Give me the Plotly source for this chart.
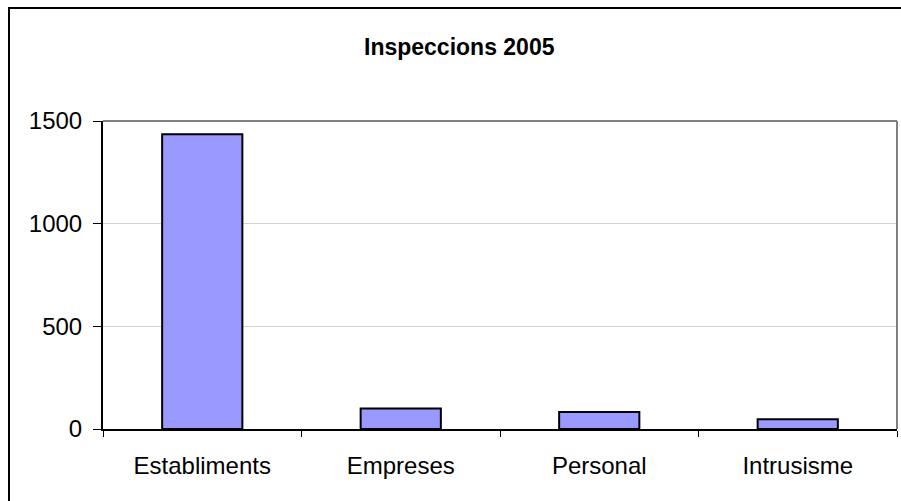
import plotly.graph_objects as go

categories = ["Establiments", "Empreses", "Personal", "Intrusisme"]
values = [1436, 100, 83, 48]
y_ticks = [0, 500, 1000, 1500]
title_text = "Inspeccions 2005"

W, H = 901, 501
L, R, T, B = 103, 4, 121, 72
pw = W - L - R
ph = H - T - B

def px_x(x):
    return (x - L) / pw

def px_y(y):
    return (H - B - y) / ph

fig = go.Figure()
fig.add_trace(go.Bar(
    x=categories, y=values,
    marker=dict(color="#9999FF", line=dict(color="#000000", width=2)),
    hoverinfo="x+y",
))

font = "Arial, 'Liberation Sans', sans-serif"
fig.update_layout(
    width=W, height=H,
    margin=dict(l=L, r=R, t=T, b=B),
    paper_bgcolor="white", plot_bgcolor="white",
    bargap=0.596,
    showlegend=False,
    font=dict(family=font, color="#000000"),
    xaxis=dict(
        showline=True, linecolor="#000000", linewidth=2,
        ticks="outside", ticklen=6, tickcolor="#000000", tickwidth=1,
        tickson="boundaries", showgrid=False,
        tickfont=dict(size=24, family=font, color="#000000"),
        ticklabelstandoff=14,
        mirror=False,
    ),
    yaxis=dict(
        range=[0, 1500], tickvals=y_ticks,
        showline=True, linecolor="#000000", linewidth=2,
        ticks="outside", ticklen=8, tickcolor="#000000", tickwidth=1,
        showgrid=True, gridcolor="#d4d4d4", gridwidth=1,
        zeroline=False,
        tickfont=dict(size=24, family=font, color="#000000"),
        ticklabelstandoff=6,
    ),
    annotations=[dict(
        text="<b>" + title_text + "</b>",
        x=px_x(459), y=px_y(47), xref="paper", yref="paper",
        xanchor="center", yanchor="middle", showarrow=False,
        font=dict(size=23, family=font, color="#000000"),
    )],
    shapes=[
        # outer chart frame
        dict(type="rect", xref="paper", yref="paper",
             x0=px_x(9), x1=px_x(910), y0=px_y(510), y1=px_y(8),
             line=dict(color="#000000", width=2), fillcolor="rgba(0,0,0,0)", layer="below"),
        # plot area border (top and right)
        dict(type="line", xref="paper", yref="paper", x0=0, x1=1, y0=1, y1=1,
             line=dict(color="#808080", width=2)),
        dict(type="line", xref="paper", yref="paper", x0=1, x1=1, y0=0, y1=1,
             line=dict(color="#808080", width=2)),
    ],
)

fig.write_html(
    "out.html",
    config={"displayModeBar": False},
    post_script="document.body.style.margin='0';document.body.style.overflow='hidden';",
)
